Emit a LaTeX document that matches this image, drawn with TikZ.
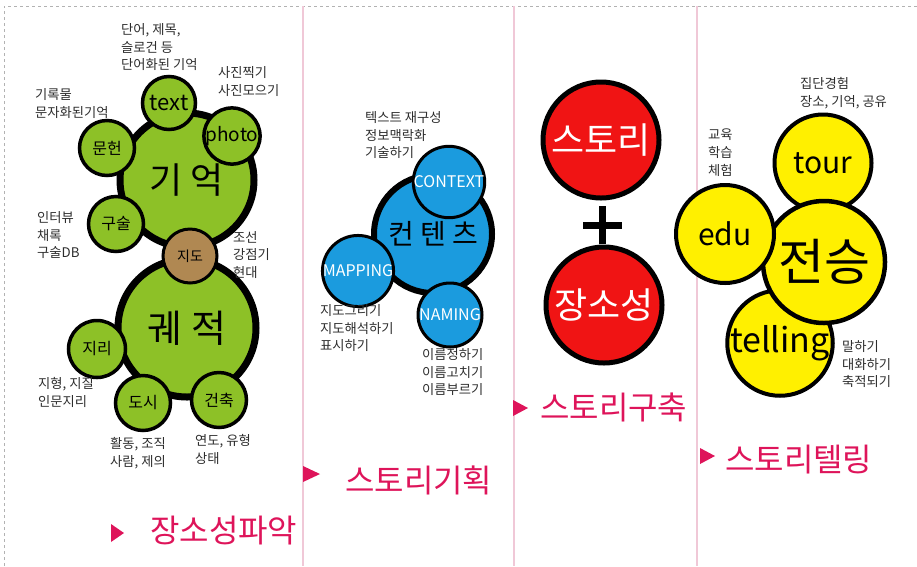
\documentclass[tikz,border=0pt]{standalone}
\usepackage{fontspec}
\setmainfont{Noto Sans CJK KR}
\definecolor{leafgreen}{RGB}{141,193,39}
\definecolor{soil}{RGB}{176,136,82}
\definecolor{skyblue}{RGB}{27,155,222}
\definecolor{apple}{RGB}{240,20,20}
\definecolor{lemon}{RGB}{255,240,0}
\definecolor{rosered}{RGB}{222,20,90}
\definecolor{pinkline}{RGB}{240,200,215}
\definecolor{notegray}{RGB}{45,45,45}
\newcommand{\fsz}[1]{\fontsize{#1}{#1}\selectfont}
\begin{document}
\begin{tikzpicture}
        [x=1pt, y=-1pt,
        ball/.style={circle, draw=black, line width=3.5pt, inner sep=0pt},
        bigball/.style={ball, line width=7pt},
        leaf/.style={ball, fill=leafgreen},
        note/.style={anchor=north west, align=left, inner sep=0pt, text=notegray, font=\fontsize{13.3}{17.8}\selectfont},
        headline/.style={anchor=west, inner sep=0pt, text=rosered, font=\fsz{32}},
        divider/.style={draw=pinkline, line width=1.2pt}]

        \useasboundingbox (0,0) rectangle (917,566);

        % frame and column dividers
        \draw[gray!60, dashed, line width=0.6pt] (4,566) -- (4,6) -- (917,6);
        \draw[divider] (303,6) -- (303,566);
        \draw[divider] (514,6) -- (514,566);
        \draw[divider] (697,6) -- (697,566);

        % column 1: memory and trace
        \node[bigball, fill=leafgreen, minimum size=134pt, font=\fsz{36}] (memory) at (187,180) {기 억};
        \node[bigball, fill=leafgreen, minimum size=138pt, font=\fsz{38}] (trace) at (187,328) {궤 적};
        \node[leaf, minimum size=53pt, font=\fsz{22}] (textc) at (169,103) {text};
        \node[leaf, minimum size=53pt, font=\fsz{19}] (photoc) at (232,136) {photo};
        \node[leaf, minimum size=55pt, font=\fsz{16}] (docc) at (107,148) {문헌};
        \node[leaf, minimum size=55pt, font=\fsz{16}] (oralc) at (116,224) {구술};
        \node[leaf, minimum size=57pt, font=\fsz{16}] (geoc) at (97,349) {지리};
        \node[leaf, minimum size=55pt, font=\fsz{16}] (cityc) at (143,403) {도시};
        \node[leaf, minimum size=55pt, font=\fsz{16}] (archc) at (219,400) {건축};
        \node[ball, fill=soil, line width=3pt, minimum size=54pt, font=\fsz{14}] (mapc) at (190,256) {지도};

        \node[note] (textn) at (121,23) {단어, 제목,\\슬로건 등\\단어화된 기억};
        \node[note] (photon) at (218,66) {사진찍기\\사진모으기};
        \node[note] (docn) at (35,88) {기록물\\문자화된기억};
        \node[note] (oraln) at (37,211) {인터뷰\\채록\\구술DB};
        \node[note] (mapn) at (233,231) {조선\\강점기\\현대};
        \node[note] (geon) at (38,377) {지형, 지질\\인문지리};
        \node[note] (cityn) at (110,437) {활동, 조직\\사람, 제의};
        \node[note] (archn) at (195,434) {연도, 유형\\상태};

        \fill[rosered] (111,524) -- (124,533) -- (111,542) -- cycle;
        \node[headline] (step1) at (150,531) {장소성파악};

        % column 2: contents
        \node[bigball, fill=skyblue, line width=6pt, minimum size=118pt, font=\fsz{28}] (content) at (433,234) {컨 텐 츠};
        \node[ball, fill=skyblue, line width=3pt, minimum size=65pt, text=white, font=\fsz{16}] (contextc) at (449,182) {CONTEXT};
        \node[ball, fill=skyblue, line width=3pt, minimum size=62pt, text=white, font=\fsz{16}] (mappingc) at (358,271) {MAPPING};
        \node[ball, fill=skyblue, line width=3pt, minimum size=64pt, text=white, font=\fsz{16}] (namingc) at (450,315) {NAMING};

        \node[note] (contextn) at (365,111) {텍스트 재구성\\정보맥락화\\기술하기};
        \node[note] (mappingn) at (320,304) {지도그리기\\지도해석하기\\표시하기};
        \node[note] (namingn) at (422,348) {이름정하기\\이름고치기\\이름부르기};

        \fill[rosered] (303,466) -- (320,474) -- (303,482) -- cycle;
        \node[headline] (step2) at (345,480) {스토리기획};

        % column 3: story + place
        \node[ball, fill=apple, line width=5pt, minimum size=116pt, text=white, font=\fsz{36}] (story) at (601,140) {스토리};
        \node[ball, fill=apple, line width=5pt, minimum size=116pt, text=white, font=\fsz{36}] (place) at (604,305) {장소성};
        \draw[line width=7pt] (602,206) -- (602,244) (583,225) -- (622,225);

        \fill[rosered] (513,400) -- (528,408) -- (513,416) -- cycle;
        \node[headline] (step3) at (540,407) {스토리구축};

        % column 4: telling
        \node[ball, fill=lemon, line width=4pt, minimum size=97pt, font=\fsz{30}] (tour) at (823,163) {tour};
        \node[ball, fill=lemon, line width=4pt, minimum size=98pt, font=\fsz{34}] (telling) at (780,343) {telling};
        \node[ball, fill=lemon, line width=4.5pt, minimum size=122pt, font=\fsz{50}] (heritage) at (824,262) {전승};
        \node[ball, fill=lemon, line width=4pt, minimum size=98pt, font=\fsz{30}] (edu) at (725,234) {edu};

        \node[note] (tourn) at (800,77) {집단경험\\장소, 기억, 공유};
        \node[note] (edun) at (708,129) {교육\\학습\\체험};
        \node[note] (tellingn) at (842,340) {말하기\\대화하기\\축적되기};

        \fill[rosered] (700,448) -- (715,456) -- (700,464) -- cycle;
        \node[headline] (step4) at (725,460) {스토리텔링};

    \end{tikzpicture}
\end{document}
